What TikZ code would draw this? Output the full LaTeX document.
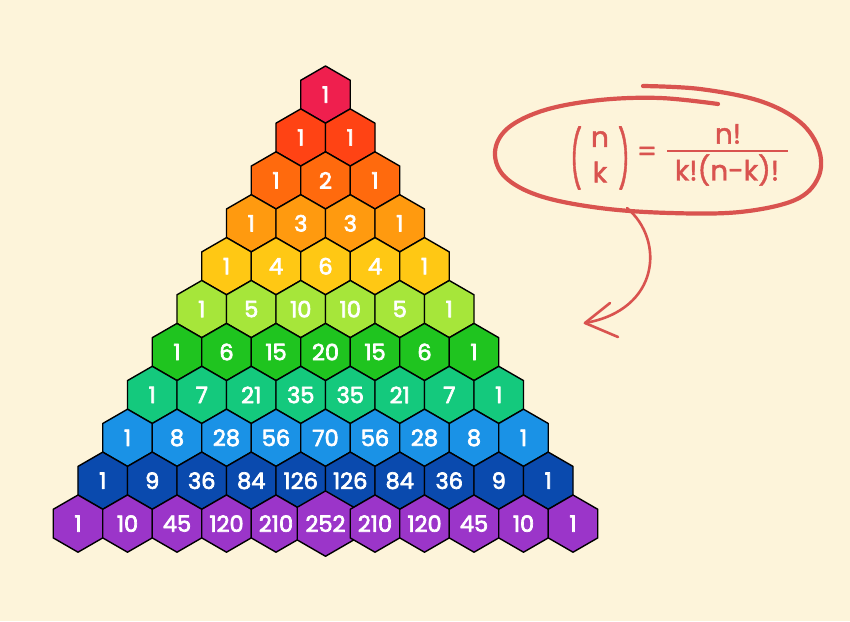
\documentclass[tikz,border=0pt]{standalone}
\usepackage{fontspec}
\setmainfont{Poppins}
\newfontfamily\numfont{Poppins}[FakeBold=3]
\newfontfamily\formfont{Poppins}[FakeBold=1.5]
\usetikzlibrary{shapes.geometric}
\definecolor{bg}{HTML}{FDF4DA}
\definecolor{ink}{HTML}{D9534F}
\definecolor{c0}{HTML}{EF1F4E}
\definecolor{c1}{HTML}{FF4314}
\definecolor{c2}{HTML}{FF6A0D}
\definecolor{c3}{HTML}{FF9A0F}
\definecolor{c4}{HTML}{FFC814}
\definecolor{c5}{HTML}{A6E63A}
\definecolor{c6}{HTML}{1FC41F}
\definecolor{c7}{HTML}{14C97D}
\definecolor{c8}{HTML}{1A92E6}
\definecolor{c9}{HTML}{0A4AAE}
\definecolor{c10}{HTML}{9B35C9}
\begin{document}
\begin{tikzpicture}[x=1pt,y=-1pt,
  hexcell/.style={regular polygon, regular polygon sides=6, shape border rotate=30,
    minimum size=57.2pt, inner sep=0pt, draw=black, line width=1.4pt, line join=round,
    text=white, font=\fontsize{22.5}{22.5}\selectfont\numfont},
  scribble/.style={draw=ink, line width=4.2pt, line cap=round, line join=round},
  pointer/.style={draw=ink, line width=2.6pt, line cap=round, line join=round},
  formula/.style={text=ink, inner sep=0pt, font=\fontsize{28}{28}\selectfont\formfont}]
\useasboundingbox (0,0) rectangle (850,621);
\fill[bg] (0,0) rectangle (850,621);
\foreach \r/\vals in {0/{1},1/{1,1},2/{1,2,1},3/{1,3,3,1},4/{1,4,6,4,1},5/{1,5,10,10,5,1},
  6/{1,6,15,20,15,6,1},7/{1,7,21,35,35,21,7,1},8/{1,8,28,56,70,56,28,8,1},
  9/{1,9,36,84,126,126,84,36,9,1},10/{1,10,45,120,210,252,210,120,45,10,1}}{
  \foreach \v [count=\k from 0] in \vals {
    \pgfmathsetmacro\xx{325.5+(\k-\r/2)*49.5}
    \pgfmathsetmacro\yy{94.6+\r*42.9}
    \node[hexcell, fill=c\r] (h-\r-\k) at (\xx,\yy) {\v};
  }
}
% formula
\node[formula] (bn) at (600,139) {n};
\node[formula] (bk) at (600,172) {k};
\node[formula] (lp) at (576,158) {\scalebox{0.9}[2.0]{(}};
\node[formula] (rp) at (624,158) {\scalebox{0.9}[2.0]{)}};
\node[formula] (eq) at (647,154) {=};
\node[formula] (num) at (728,134) {n!};
\node[formula] (den) at (727,170) {k!(n-k)!};
\coordinate (barL) at (667,151);
\coordinate (barR) at (788,151);
\draw[ink, line width=2.2pt] (barL) -- (barR);
% ellipse scribble
\draw[scribble] plot[smooth, tension=0.6] coordinates {(718,104) (660,98) (600,100) (545,110) (508,128) (495,152) (505,177) (540,196) (600,208) (670,213) (740,212) (795,200) (818,178) (819,150) (800,122) (760,101) (700,89) (643,86)};
% arrow
\coordinate (astart) at (627,208);
\coordinate (tip) at (585,323);
\coordinate (hu) at (610,303);
\coordinate (hl) at (618,337);
\draw[pointer] (astart) .. controls (665,240) and (660,310) .. (tip);
\draw[pointer] (hu) -- (tip) -- (hl);
\end{tikzpicture}
\end{document}
